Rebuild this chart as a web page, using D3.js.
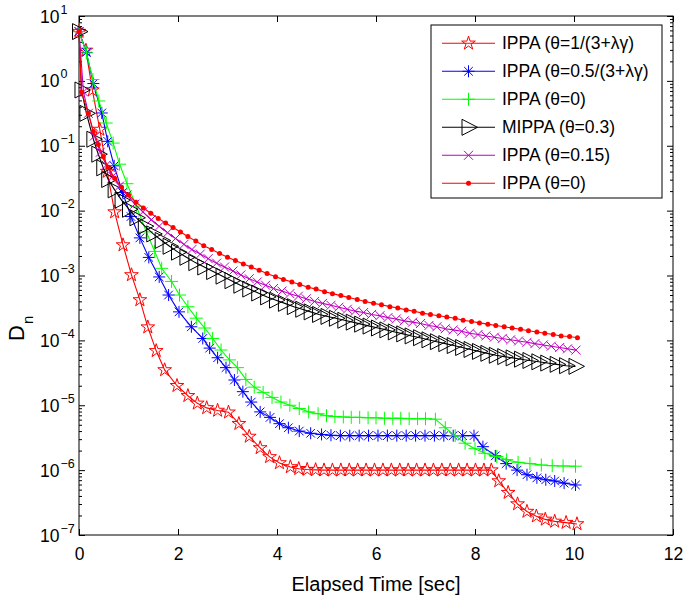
<!DOCTYPE html>
<html><head><meta charset="utf-8">
<script src="https://cdn.jsdelivr.net/npm/d3@7"></script>
<style>
body{margin:0;background:#fff}
svg{display:block}
text{font-family:Arial,"Liberation Sans",Helvetica,sans-serif;fill:#000}
</style>
</head><body>
<svg id="c" width="685" height="599"></svg>
<script>
// ---------- data ----------
const xTicks = [0, 2, 4, 6, 8, 10, 12];
const yExponents = [1, 0, -1, -2, -3, -4, -5, -6, -7];
const legendLabels = [
  "IPPA (\u03B8=1/(3+\u03BB\u03B3)",
  "IPPA (\u03B8=0.5/(3+\u03BB\u03B3)",
  "IPPA (\u03B8=0)",
  "MIPPA (\u03B8=0.3)",
  "IPPA (\u03B8=0.15)",
  "IPPA (\u03B8=0)"
];
const seriesColors = ["#ff0000", "#0000ff", "#00ff00", "#000000", "#bf00bf", "#ff0000"];
const seriesMarkers = ["star", "asterisk", "plus", "triangle", "cross", "dot"];

// IPPA (theta=1/(3+lambda gamma)) - red stars
const tStar = [0, 0.14, 0.27, 0.42, 0.57, 0.72, 0.89, 1.06, 1.23, 1.39, 1.56, 1.73, 1.98, 2.2, 2.39, 2.58, 2.8, 3.02, 3.23, 3.44,
  3.66, 3.85, 4.05, 4.27, 4.44, 4.61, 4.78, 4.95, 5.12, 5.29, 5.46, 5.63, 5.8, 5.97, 6.14, 6.31, 6.48, 6.65, 6.82, 6.99,
  7.16, 7.33, 7.5, 7.67, 7.84, 8.01, 8.18, 8.33, 8.48, 8.67, 8.86, 9.05, 9.24, 9.42, 9.61, 9.84, 10.06];
const dStar = [5.75, 2.95, 0.72, 0.178, 0.040, 9.5e-3, 2.95e-3, 1.02e-3, 4.2e-4, 1.6e-4, 6.9e-5, 3.5e-5, 2.0e-5, 1.4e-5, 1.07e-5, 9.1e-6, 8.3e-6, 7.8e-6, 5.2e-6, 3.3e-6,
  2.2e-6, 1.6e-6, 1.29e-6, 1.12e-6, 1.05e-6, 1.02e-6, 1.01e-6, 1.0e-6, 1.0e-6, 1.0e-6, 1.0e-6, 1.0e-6, 1.0e-6, 1.0e-6, 1.0e-6, 1.0e-6, 1.0e-6, 1.0e-6, 1.0e-6, 1.0e-6,
  1.0e-6, 1.0e-6, 1.0e-6, 1.0e-6, 1.0e-6, 1.0e-6, 1.0e-6, 1.0e-6, 6.8e-7, 4.5e-7, 3.0e-7, 2.3e-7, 1.95e-7, 1.74e-7, 1.62e-7, 1.55e-7, 1.48e-7];

// IPPA (theta=0.5/(3+lambda gamma)) - blue asterisks
const tAst = [0, 0.15, 0.29, 0.46, 0.58, 0.71, 0.88, 1.05, 1.23, 1.41, 1.62, 1.81, 2.02, 2.27, 2.5, 2.64, 2.8, 2.97, 3.14, 3.31,
  3.48, 3.66, 3.86, 4.05, 4.23, 4.45, 4.68, 4.9, 5.09, 5.28, 5.47, 5.66, 5.85, 6.04, 6.23, 6.42, 6.61, 6.8, 6.99, 7.18,
  7.37, 7.56, 7.75, 7.98, 8.16, 8.41, 8.63, 8.85, 9.05, 9.25, 9.43, 9.61, 9.8, 10.03];
const dAst = [5.75, 2.75, 0.91, 0.32, 0.117, 0.049, 0.019, 8.1e-3, 3.8e-3, 1.9e-3, 9.5e-4, 5.0e-4, 2.75e-4, 1.62e-4, 1.07e-4, 7.6e-5, 5.4e-5, 3.8e-5, 2.45e-5, 1.62e-5,
  1.12e-5, 7.9e-6, 6.5e-6, 5.2e-6, 4.5e-6, 4.0e-6, 3.7e-6, 3.55e-6, 3.45e-6, 3.4e-6, 3.4e-6, 3.4e-6, 3.4e-6, 3.4e-6, 3.4e-6, 3.4e-6, 3.4e-6, 3.4e-6, 3.4e-6, 3.4e-6,
  3.4e-6, 3.4e-6, 3.4e-6, 3.4e-6, 2.3e-6, 1.66e-6, 1.26e-6, 1.0e-6, 8.5e-7, 7.6e-7, 7.1e-7, 6.8e-7, 6.3e-7, 5.9e-7];

// IPPA (theta=0) - green plus
const tPlus = [0, 0.15, 0.28, 0.4, 0.55, 0.69, 0.82, 0.97, 1.16, 1.36, 1.53, 1.67, 1.87, 2.03, 2.2, 2.37, 2.54, 2.7, 2.87, 3.04,
  3.2, 3.37, 3.54, 3.72, 3.9, 4.08, 4.26, 4.45, 4.64, 4.83, 5.0, 5.17, 5.34, 5.5, 5.67, 5.84, 6.0, 6.17, 6.34, 6.5,
  6.67, 6.84, 7.0, 7.2, 7.4, 7.6, 7.8, 8.0, 8.2, 8.44, 8.64, 8.87, 9.11, 9.34, 9.56, 9.78, 10.03];
const dPlus = [5.75, 2.7, 1.05, 0.49, 0.224, 0.11, 0.052, 0.026, 0.0117, 4.7e-3, 2.35e-3, 1.29e-3, 8.1e-4, 5.0e-4, 3.3e-4, 2.2e-4, 1.55e-4, 1.07e-4, 7.1e-5, 5.0e-5,
  3.8e-5, 2.5e-5, 1.9e-5, 1.58e-5, 1.32e-5, 1.12e-5, 1.0e-5, 8.9e-6, 7.9e-6, 7.4e-6, 6.9e-6, 6.7e-6, 6.6e-6, 6.5e-6, 6.5e-6, 6.4e-6, 6.4e-6, 6.3e-6, 6.3e-6, 6.3e-6,
  6.2e-6, 6.2e-6, 6.2e-6, 6.1e-6, 4.5e-6, 3.4e-6, 2.6e-6, 2.14e-6, 1.82e-6, 1.62e-6, 1.45e-6, 1.32e-6, 1.26e-6, 1.2e-6, 1.17e-6, 1.16e-6, 1.15e-6];

// MIPPA (theta=0.3) - black triangles
const tTri = [0, 0.05, 0.15, 0.29, 0.39, 0.49, 0.59, 0.72, 0.86, 1.01, 1.16, 1.33, 1.5, 1.67, 1.83, 2.0, 2.17, 2.35, 2.53, 2.71,
  2.9, 3.08, 3.26, 3.44, 3.62, 3.8, 3.98, 4.16, 4.34, 4.51, 4.68, 4.85, 5.02, 5.19, 5.36, 5.53, 5.7, 5.87, 6.04, 6.21,
  6.38, 6.55, 6.72, 6.89, 7.06, 7.23, 7.4, 7.57, 7.74, 7.91, 8.08, 8.25, 8.42, 8.59, 8.76, 8.93, 9.1, 9.28, 9.46, 9.65,
  9.84, 10.03];
const dTri = [5.75, 0.724, 0.316, 0.126, 0.0741, 0.0457, 0.0302, 0.0209, 0.0145, 0.0105, 7.76e-3, 5.75e-3, 4.37e-3, 3.47e-3, 2.82e-3, 2.29e-3, 1.91e-3, 1.58e-3, 1.35e-3, 1.15e-3,
  9.77e-4, 8.32e-4, 7.08e-4, 6.17e-4, 5.37e-4, 4.68e-4, 4.17e-4, 3.72e-4, 3.31e-4, 3.02e-4, 2.75e-4, 2.51e-4, 2.34e-4, 2.19e-4, 2.04e-4, 1.91e-4, 1.78e-4, 1.66e-4, 1.55e-4, 1.45e-4,
  1.35e-4, 1.26e-4, 1.17e-4, 1.10e-4, 1.02e-4, 9.55e-5, 8.91e-5, 8.32e-5, 7.76e-5, 7.24e-5, 6.76e-5, 6.31e-5, 5.89e-5, 5.62e-5, 5.37e-5, 5.13e-5, 4.90e-5, 4.68e-5, 4.47e-5, 4.27e-5,
  4.07e-5, 3.98e-5];

// IPPA (theta=0.15) - magenta crosses
const tCross = [0, 0.09, 0.19, 0.31, 0.43, 0.55, 0.68, 0.82, 0.97, 1.13, 1.29, 1.46, 1.62, 1.79, 1.95, 2.12, 2.28, 2.45, 2.61, 2.78,
  2.94, 3.11, 3.27, 3.44, 3.6, 3.77, 3.93, 4.1, 4.26, 4.43, 4.59, 4.76, 4.92, 5.09, 5.25, 5.42, 5.58, 5.75, 5.91, 6.08,
  6.24, 6.41, 6.57, 6.74, 6.9, 7.07, 7.23, 7.4, 7.56, 7.73, 7.89, 8.06, 8.22, 8.39, 8.55, 8.72, 8.88, 9.05, 9.21, 9.38,
  9.54, 9.71, 9.87, 10.04];
const dCross = [5.75, 0.676, 0.316, 0.141, 0.0794, 0.0501, 0.0339, 0.0240, 0.0174, 0.0126, 9.55e-3, 7.24e-3, 5.75e-3, 4.57e-3, 3.72e-3, 3.02e-3, 2.51e-3, 2.14e-3, 1.82e-3, 1.55e-3,
  1.35e-3, 1.17e-3, 1.02e-3, 8.91e-4, 7.94e-4, 7.08e-4, 6.31e-4, 5.75e-4, 5.25e-4, 4.79e-4, 4.37e-4, 3.98e-4, 3.72e-4, 3.47e-4, 3.24e-4, 3.02e-4, 2.82e-4, 2.69e-4, 2.51e-4, 2.40e-4,
  2.24e-4, 2.14e-4, 2.00e-4, 1.91e-4, 1.82e-4, 1.70e-4, 1.62e-4, 1.51e-4, 1.45e-4, 1.38e-4, 1.29e-4, 1.23e-4, 1.17e-4, 1.12e-4, 1.07e-4, 1.02e-4, 9.77e-5, 9.33e-5, 8.91e-5, 8.51e-5,
  8.13e-5, 7.76e-5, 7.41e-5, 7.08e-5];

// IPPA (theta=0) - red dots
const tDot = [0, 0.05, 0.19, 0.29, 0.39, 0.49, 0.59, 0.72, 0.86, 1.0, 1.15, 1.3, 1.45, 1.6, 1.75, 1.9, 2.05, 2.2, 2.36, 2.52,
  2.68, 2.84, 3.0, 3.16, 3.32, 3.48, 3.64, 3.8, 3.97, 4.13, 4.3, 4.46, 4.63, 4.79, 4.96, 5.12, 5.29, 5.45, 5.62, 5.78,
  5.95, 6.11, 6.28, 6.44, 6.61, 6.77, 6.94, 7.1, 7.27, 7.43, 7.6, 7.76, 7.93, 8.09, 8.26, 8.42, 8.59, 8.75, 8.92, 9.08,
  9.25, 9.41, 9.58, 9.74, 9.91, 10.07];
const dDot = [5.75, 0.676, 0.316, 0.166, 0.105, 0.0676, 0.0468, 0.0316, 0.0229, 0.0174, 0.0135, 0.0110, 9.12e-3, 7.59e-3, 6.46e-3, 5.50e-3, 4.68e-3, 3.98e-3, 3.39e-3, 2.88e-3,
  2.51e-3, 2.19e-3, 1.91e-3, 1.70e-3, 1.51e-3, 1.35e-3, 1.20e-3, 1.07e-3, 9.55e-4, 8.71e-4, 7.94e-4, 7.24e-4, 6.61e-4, 6.17e-4, 5.62e-4, 5.25e-4, 4.90e-4, 4.57e-4, 4.27e-4, 3.98e-4,
  3.72e-4, 3.55e-4, 3.31e-4, 3.16e-4, 2.95e-4, 2.82e-4, 2.63e-4, 2.51e-4, 2.40e-4, 2.29e-4, 2.19e-4, 2.04e-4, 1.95e-4, 1.86e-4, 1.78e-4, 1.70e-4, 1.62e-4, 1.55e-4, 1.48e-4, 1.41e-4,
  1.35e-4, 1.29e-4, 1.23e-4, 1.17e-4, 1.15e-4, 1.10e-4];

const seriesTimes = [tStar, tAst, tPlus, tTri, tCross, tDot];
const seriesValues = [dStar, dAst, dPlus, dTri, dCross, dDot];

// ---------- layout ----------
const W = 685, H = 599;
const L = 79, R = 673, T = 16, B = 535;
const x = d3.scaleLinear().domain([0, 12]).range([L, R]);
const y = d3.scaleLog().domain([1e-7, 10]).range([B, T]);

const svg = d3.select("#c");
svg.append("rect").attr("width", W).attr("height", H).attr("fill", "#fff");

// ---------- axes ----------
const majorY = yExponents.map(e => Math.pow(10, e));
const minorY = [];
yExponents.forEach(e => { if (e < 1) for (let m = 2; m <= 9; m++) minorY.push(m * Math.pow(10, e)); });

function styleAxis(g) {
  g.select(".domain").remove();
  g.selectAll("line").attr("stroke", "#000").attr("stroke-width", 1);
}
svg.append("g").attr("transform", `translate(0,${B})`)
  .call(d3.axisBottom(x).tickValues(xTicks).tickSizeInner(-6).tickSizeOuter(0).tickPadding(13).tickFormat(d3.format("d")))
  .call(styleAxis)
  .selectAll("text").attr("font-size", 17.5).attr("font-family", "Arial, 'Liberation Sans', sans-serif");
svg.append("g").attr("transform", `translate(0,${T})`)
  .call(d3.axisTop(x).tickValues(xTicks).tickSizeInner(-6).tickSizeOuter(0).tickFormat(""))
  .call(styleAxis);
[[L, d3.axisLeft], [R, d3.axisRight]].forEach(([px, ax]) => {
  svg.append("g").attr("transform", `translate(${px},0)`)
    .call(ax(y).tickValues(majorY).tickSizeInner(-6).tickSizeOuter(0).tickFormat(""))
    .call(styleAxis);
  svg.append("g").attr("transform", `translate(${px},0)`)
    .call(ax(y).tickValues(minorY).tickSizeInner(-3).tickSizeOuter(0).tickFormat(""))
    .call(styleAxis);
});

// y tick labels 10^k
const yl = svg.append("g");
yExponents.forEach(e => {
  const t = yl.append("text").attr("x", 40).attr("y", y(Math.pow(10, e)) + 6.5).attr("font-size", 17.5);
  t.append("tspan").text("10");
  t.append("tspan").attr("dy", -9).attr("dx", 1).attr("font-size", 12.5).text(e < 0 ? "\u2212" + (-e) : String(e));
});

// frame
svg.append("rect").attr("x", L).attr("y", T).attr("width", R - L).attr("height", B - T)
  .attr("fill", "none").attr("stroke", "#000").attr("stroke-width", 1);

// axis titles
svg.append("text").attr("x", (L + R) / 2).attr("y", 591).attr("text-anchor", "middle")
  .attr("font-size", 20).text("Elapsed Time [sec]");
const yt = svg.append("text").attr("transform", "translate(24,341) rotate(-90)").attr("font-size", 22);
yt.append("tspan").text("D");
yt.append("tspan").attr("dy", 9).attr("dx", 1).attr("font-size", 15).text("n");

// ---------- markers ----------
function drawMarker(g, type, color, cx, cy) {
  if (type === "star") {
    g.append("path").attr("d", d3.symbol(d3.symbolStar, 58)())
      .attr("transform", `translate(${cx},${cy})`).attr("fill", "none").attr("stroke", color).attr("stroke-width", 1);
  } else if (type === "asterisk") {
    const r = 6, d = 4.3;
    g.append("path").attr("d", `M${cx - r},${cy}H${cx + r}M${cx},${cy - r}V${cy + r}M${cx - d},${cy - d}L${cx + d},${cy + d}M${cx - d},${cy + d}L${cx + d},${cy - d}`)
      .attr("stroke", color).attr("stroke-width", 1).attr("fill", "none");
  } else if (type === "plus") {
    const r = 6.5;
    g.append("path").attr("d", `M${cx - r},${cy}H${cx + r}M${cx},${cy - r}V${cy + r}`)
      .attr("stroke", color).attr("stroke-width", 1).attr("fill", "none");
  } else if (type === "triangle") {
    g.append("path").attr("d", `M${cx - 6.5},${cy - 8}L${cx + 9},${cy}L${cx - 6.5},${cy + 8}Z`)
      .attr("stroke", color).attr("stroke-width", 1).attr("fill", "none");
  } else if (type === "cross") {
    const d = 4.5;
    g.append("path").attr("d", `M${cx - d},${cy - d}L${cx + d},${cy + d}M${cx - d},${cy + d}L${cx + d},${cy - d}`)
      .attr("stroke", color).attr("stroke-width", 1).attr("fill", "none");
  } else if (type === "dot") {
    g.append("circle").attr("cx", cx).attr("cy", cy).attr("r", 2.5).attr("fill", color);
  }
}

// ---------- series ----------
const line = d3.line().x(d => x(d[0])).y(d => y(d[1]));
seriesTimes.forEach((ts, i) => {
  const pts = d3.zip(ts, seriesValues[i]);
  const g = svg.append("g");
  g.append("path").datum(pts).attr("d", line).attr("fill", "none")
    .attr("stroke", seriesColors[i]).attr("stroke-width", 1.1);
  pts.forEach(p => drawMarker(g, seriesMarkers[i], seriesColors[i], x(p[0]), y(p[1])));
});

// ---------- legend ----------
const lg = svg.append("g");
lg.append("rect").attr("x", 431).attr("y", 25).attr("width", 231).attr("height", 173)
  .attr("fill", "#fff").attr("stroke", "#000").attr("stroke-width", 1);
legendLabels.forEach((lab, i) => {
  const cy = 43.3 + i * 28;
  lg.append("line").attr("x1", 442).attr("x2", 495).attr("y1", cy).attr("y2", cy)
    .attr("stroke", seriesColors[i]).attr("stroke-width", 1.1);
  drawMarker(lg, seriesMarkers[i], seriesColors[i], 468.5, cy);
  lg.append("text").attr("x", 502).attr("y", cy + 6).attr("font-size", 17.5).text(lab);
});
</script>
</body></html>
